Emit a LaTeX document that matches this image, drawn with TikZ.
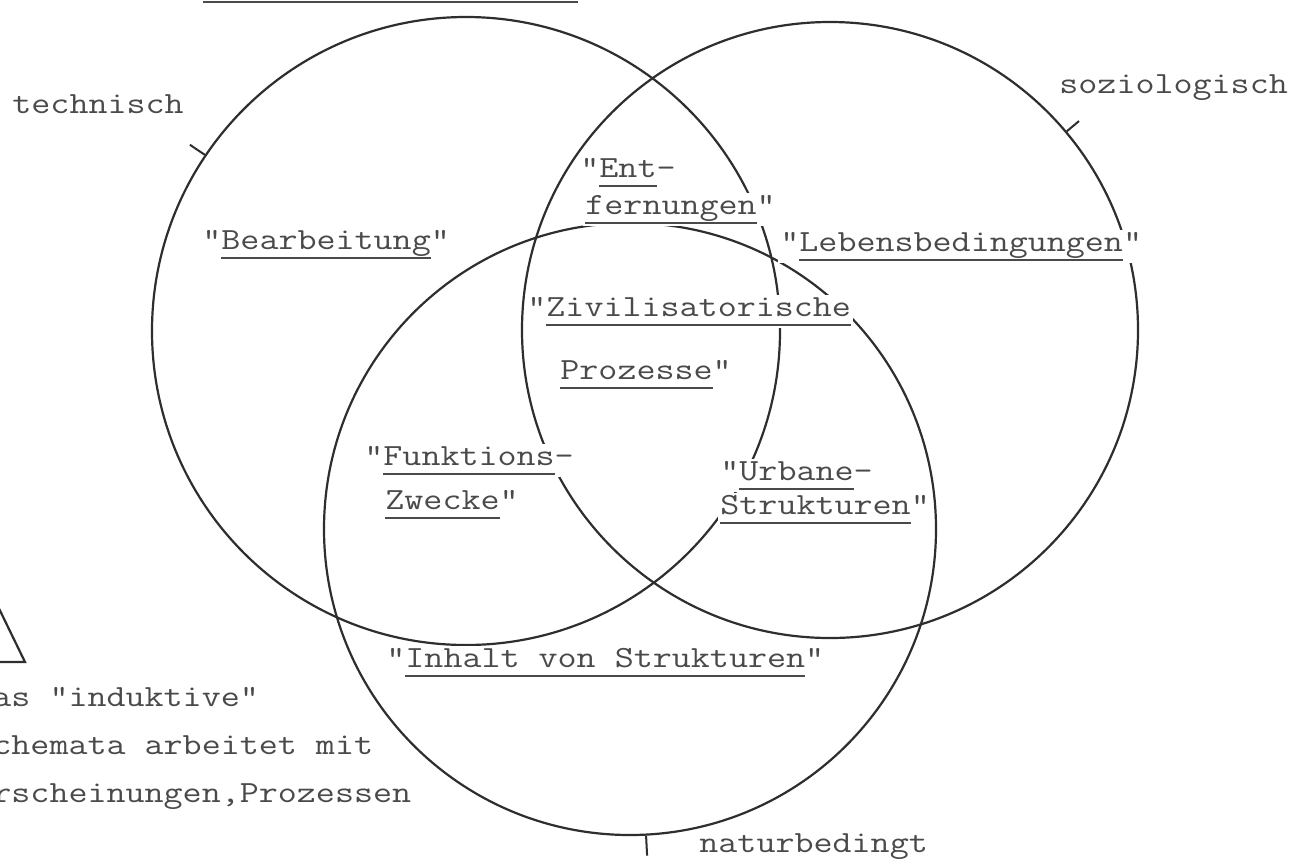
\documentclass[tikz,border=0pt]{standalone}
\usepackage{fontspec}
\setmonofont[FakeStretch=1.2]{Latin Modern Mono}
\definecolor{inkc}{HTML}{2E2E2E}
\definecolor{textc}{HTML}{4A4A4A}
\newcommand{\ulx}[1]{\setbox0\hbox{#1}\rlap{\rule[-5pt]{\wd0}{0.8pt}}\box0}
\begin{document}
\begin{tikzpicture}[x=0.5pt,y=-0.5pt,
  ring/.style={circle,draw=inkc,line width=1.1pt,minimum size=#1,inner sep=0pt},
  lbl/.style={anchor=base west,inner sep=1pt,fill=white,font=\ttfamily\fontsize{15.4}{19}\selectfont,text=textc},
  tickmark/.style={draw=inkc,line width=1pt}]
\useasboundingbox (0,0) rectangle (1306,863);
\fill[white] (0,0) rectangle (1306,863);
\clip (0,0) rectangle (1306,863);
% circles
\node[ring=314pt] (A) at (466,331) {};
\node[ring=308pt] (B) at (830,330) {};
\node[ring=306pt] (C) at (630,529) {};
% ticks
\draw[tickmark] (A.146) -- ++(146:9pt);
\draw[tickmark] (B.40) -- ++(40:8pt);
\draw[tickmark] (C.273) -- ++(273:10pt);
% cut-off title underline and triangle
\coordinate (ulL) at (203,2);
\coordinate (ulR) at (578,2);
\draw[textc,line width=1.2pt] (ulL) -- (ulR);
\coordinate (triA) at (-10,590);
\coordinate (triB) at (25,662);
\coordinate (triC) at (-10,662);
\draw[inkc,line width=1.1pt] (triA) -- (triB) -- (triC);
% labels
\node[lbl] (tech) at (10,113) {technisch};
\node[lbl] (sozi) at (1057,93) {soziologisch};
\node[lbl] (natu) at (697,852) {naturbedingt};
\node[lbl] (bear) at (200,249) {"\ulx{Bearbeitung}"};
\node[lbl] (fern) at (583,214) {\ulx{fernungen}"};
\node[lbl] (ent) at (578,177) {"\ulx{Ent}-};
\node[lbl] (lebe) at (778,251) {"\ulx{Lebensbedingungen}"};
\node[lbl] (proz) at (558,379) {\ulx{Prozesse}"};
\node[lbl] (zivi) at (525,316) {"\ulx{Zivilisatorische}};
\node[lbl] (zwec) at (383,509) {\ulx{Zwecke}"};
\node[lbl] (funk) at (362,465) {"\ulx{Funktions}-};
\node[lbl] (stru) at (718,514) {\ulx{Strukturen}"};
\node[lbl] (urba) at (718,480) {"\ulx{Urbane}-};
\node[lbl] (inha) at (384,667) {"\ulx{Inhalt von Strukturen}"};
\node[lbl,fill=none] (ind1) at (-10,706) {as "induktive"};
\node[lbl,fill=none] (ind2) at (-10,754) {chemata arbeitet mit};
\node[lbl,fill=none] (ind3) at (-10,802) {rscheinungen,Prozessen};
\end{tikzpicture}
\end{document}
